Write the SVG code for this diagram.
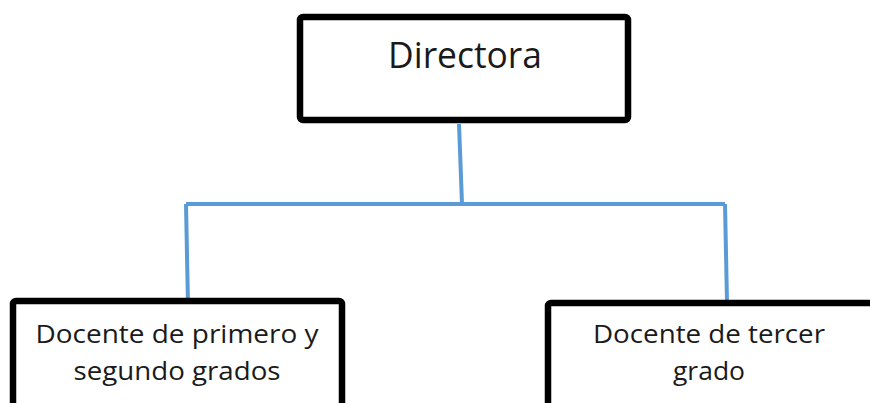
<svg xmlns="http://www.w3.org/2000/svg" width="870" height="403" viewBox="0 0 870 403">
<style>
.box{fill:#fff;stroke:#000;stroke-width:6.5;stroke-linejoin:round}
.t{font-family:"Open Sans","Liberation Sans",sans-serif;fill:#1a1a1a;text-anchor:middle}
.conn{fill:none;stroke:#5B9BD5;stroke-width:4;stroke-linejoin:miter}
</style>
<rect width="870" height="403" fill="#fff"/>
<g id="connectors">
<path class="conn" d="M459,124 L462,204"/>
<path class="conn" d="M186,204 L725,204"/>
<path class="conn" d="M186,204 L188,306"/>
<path class="conn" d="M725,204 L727,302"/>
</g>
<g id="directora">
<rect class="box" x="300" y="17" width="328" height="103" rx="3"/>
<text class="t" x="465" y="68" font-size="36" textLength="154" lengthAdjust="spacingAndGlyphs">Directora</text>
</g>
<g id="docente12">
<rect class="box" x="13" y="301" width="329" height="120" rx="3"/>
<text class="t" x="177" y="343" font-size="25" textLength="283" lengthAdjust="spacingAndGlyphs">Docente de primero y</text>
<text class="t" x="177" y="380" font-size="25" textLength="207" lengthAdjust="spacingAndGlyphs">segundo grados</text>
</g>
<g id="docente3">
<rect class="box" x="548" y="303" width="340" height="120" rx="3"/>
<text class="t" x="709" y="343" font-size="25" textLength="232" lengthAdjust="spacingAndGlyphs">Docente de tercer</text>
<text class="t" x="709" y="380" font-size="25" textLength="72" lengthAdjust="spacingAndGlyphs">grado</text>
</g>
</svg>
